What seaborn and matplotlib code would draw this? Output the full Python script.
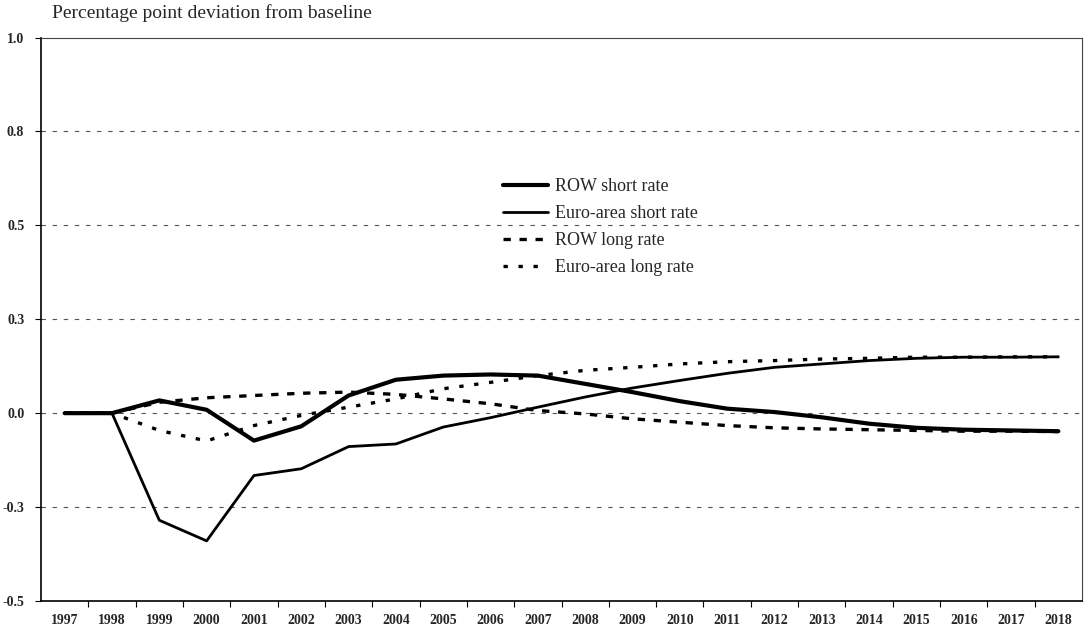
import numpy as np
import pandas as pd
import matplotlib
matplotlib.use("Agg")
import matplotlib.pyplot as plt
import seaborn as sns
from matplotlib.ticker import FixedLocator

years = list(range(1997, 2019))
row_short = [0.0, 0.0, 0.034, 0.009, -0.073, -0.035, 0.047, 0.089, 0.100, 0.103, 0.100,
             0.078, 0.056, 0.032, 0.012, 0.003, -0.011, -0.028, -0.039, -0.044, -0.046, -0.048]
euro_short = [0.0, 0.0, -0.285, -0.340, -0.166, -0.148, -0.089, -0.082, -0.037, -0.012, 0.016,
              0.043, 0.067, 0.087, 0.106, 0.122, 0.131, 0.140, 0.146, 0.149, 0.149, 0.150]
row_long = [0.0, 0.0, 0.029, 0.041, 0.047, 0.053, 0.056, 0.050, 0.038, 0.025, 0.007,
            -0.002, -0.015, -0.024, -0.033, -0.039, -0.042, -0.044, -0.046, -0.048, -0.048, -0.049]
euro_long = [0.0, 0.0, -0.046, -0.074, -0.033, -0.006, 0.016, 0.038, 0.065, 0.082, 0.100,
             0.114, 0.122, 0.131, 0.137, 0.140, 0.144, 0.146, 0.149, 0.149, 0.150, 0.150]
series_names = ["ROW short rate", "Euro-area short rate", "ROW long rate", "Euro-area long rate"]
ytick_vals = [-0.5, -0.25, 0.0, 0.25, 0.5, 0.75, 1.0]
ytick_labels = ["-0.5", "-0.3", "0.0", "0.3", "0.5", "0.8", "1.0"]
title = "Percentage point deviation from baseline"

sns.set_theme(style="white")
plt.rcParams["font.family"] = ["Liberation Serif", "DejaVu Serif"]

fig = plt.figure(figsize=(10.85, 6.35), dpi=100)
ax = fig.add_axes([41 / 1085, 1 - 601 / 635, (1082 - 41) / 1085, (601 - 37.5) / 635])

for yv in [0.75, 0.5, 0.25, 0.0, -0.25]:
    ax.axhline(yv, color="#555555", lw=0.8, ls=(0, (4, 6)), zorder=1)

styles = [
    dict(lw=3.0, dashes=None),
    dict(lw=2.0, dashes=None),
    dict(lw=2.4, dashes=(2.2, 2.6)),
    dict(lw=2.4, dashes=(1.3, 3.2)),
]
data = [row_short, euro_short, row_long, euro_long]
for name, vals, st in zip(series_names, data, styles):
    df = pd.DataFrame({"year": years, "value": vals})
    sns.lineplot(x="year", y="value", data=df, ax=ax, color="black", lw=st["lw"],
                 label=name, zorder=3)
    if st["dashes"] is not None:
        ax.lines[-1].set_dashes(st["dashes"])

ax.set_xlim(1996.5, 2018.5)
ax.set_ylim(-0.5, 1.0)
ax.set_xticks(years)
ax.set_xticklabels([str(y) for y in years], fontsize=10, fontweight="bold")
ax.xaxis.set_minor_locator(FixedLocator([y + 0.5 for y in years[:-1]]))
ax.tick_params(axis="x", which="major", length=0, pad=9)
ax.tick_params(axis="x", which="minor", length=4, width=0.8, direction="out", color="black", bottom=True)
ax.set_yticks(ytick_vals)
ax.set_yticklabels(ytick_labels, fontsize=10, fontweight="bold")
ax.tick_params(axis="y", length=4, width=0.8, direction="out", color="black", left=True, pad=8)
ax.set_xlabel("")
ax.set_ylabel("")
for s in ["left", "bottom"]:
    ax.spines[s].set_color("black")
    ax.spines[s].set_linewidth(1.2)
for s in ["top", "right"]:
    ax.spines[s].set_color("#444444")
    ax.spines[s].set_linewidth(0.8)

leg = ax.legend(loc="upper left", bbox_to_anchor=((503 - 41) / 1041, (601 - 178) / 563.5),
                frameon=False, fontsize=13, borderpad=0, borderaxespad=0,
                handlelength=2.5, handletextpad=0.4, labelspacing=0.56)

fig.text(52 / 1085, 1 - 13 / 635, title, fontsize=14, va="center", ha="left")

fig.savefig("out.png", dpi=100)
